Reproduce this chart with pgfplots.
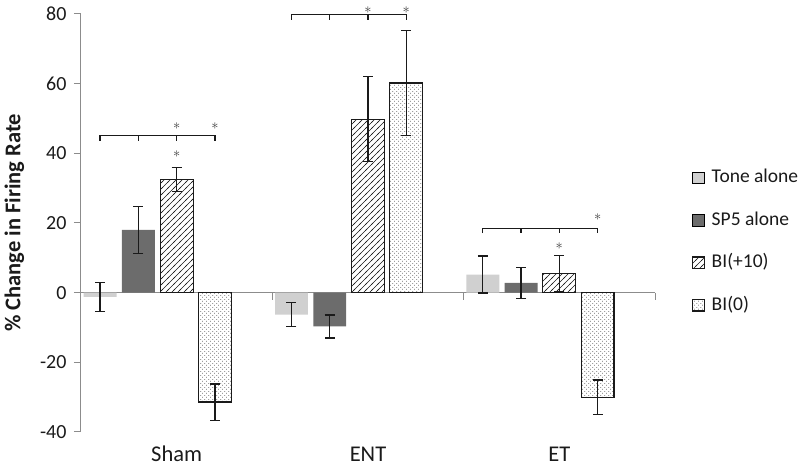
\documentclass[border=0pt]{standalone}
\usepackage{fontspec}
\setmainfont{Carlito}
\usepackage{pgfplots}
\usepackage{pgfplotstable}
\pgfplotsset{compat=1.18}
\usetikzlibrary{patterns}

\definecolor{tonegray}{RGB}{208,208,208}
\definecolor{spgray}{RGB}{108,108,108}
\definecolor{axisgray}{RGB}{140,140,140}
\definecolor{txt}{RGB}{26,26,26}
\definecolor{stargray}{RGB}{60,60,60}

% "/" hatch for BI(+10)
\pgfdeclarepatternformonly{hatchNE}{\pgfqpoint{-1pt}{-1pt}}{\pgfqpoint{7pt}{7pt}}{\pgfqpoint{6pt}{6pt}}{
  \pgfsetlinewidth{0.6pt}
  \pgfpathmoveto{\pgfqpoint{-1pt}{-1pt}}
  \pgfpathlineto{\pgfqpoint{7pt}{7pt}}
  \pgfusepath{stroke}}
% dotted "\" hatch for BI(0)
\pgfdeclarepatternformonly{dotNW}{\pgfqpoint{0pt}{0pt}}{\pgfqpoint{4pt}{4pt}}{\pgfqpoint{4pt}{4pt}}{
  \pgfpathrectangle{\pgfqpoint{0.6pt}{2.6pt}}{\pgfqpoint{0.8pt}{0.8pt}}
  \pgfpathrectangle{\pgfqpoint{2.6pt}{0.6pt}}{\pgfqpoint{0.8pt}{0.8pt}}
  \pgfusepath{fill}}

% columns: x = group (0 Sham, 1 ENT, 2 ET), y = mean, e = error
\pgfplotstableread{
x y e
0 -1.2 4.2
1 -6.3 3.5
2 5.2 5.3
}\tone
\pgfplotstableread{
x y e
0 18.0 6.7
1 -9.7 3.3
2 2.8 4.4
}\spfive
\pgfplotstableread{
x y e
0 32.5 3.5
1 49.8 12.2
2 5.5 5.2
}\biten
\pgfplotstableread{
x y e
0 -31.4 5.2
1 60.2 15.0
2 -30.0 4.9
}\bizero

\pgfplotsset{
  errb/.style={
    error bars/.cd, y dir=both, y explicit,
    error bar style={draw=txt, line width=1.3pt},
    error mark options={draw=txt, rotate=90, mark size=5pt, line width=1.3pt}},
}
\tikzset{
  bracket/.style={draw=txt, line width=1.3pt},
  star/.style={font=\fontsize{15}{15}\selectfont, text=stargray, inner sep=0pt},
  cat/.style={font=\fontsize{22.5}{22.5}\selectfont, text=txt, anchor=base},
}

\begin{document}
\begin{tikzpicture}
\useasboundingbox (0,0) rectangle (800pt,470pt);
\begin{axis}[
  at={(81pt,38pt)}, anchor=south west,
  scale only axis, width=574pt, height=418pt,
  xmin=-0.5, xmax=2.5, ymin=-40, ymax=80,
  axis y line*=left, axis x line=none,
  xtick=\empty,
  ytick={-40,-20,0,20,40,60,80},
  tick align=outside, major tick length=7pt,
  y axis line style={draw=axisgray, line width=1pt},
  ytick style={draw=axisgray, line width=1pt},
  yticklabel style={font=\fontsize{20}{20}\selectfont, text=txt, xshift=-4pt},
  /pgf/number format/assume math mode=true,
  clip=false,
  legend style={at={(axis description cs:1.0645,0.630)}, anchor=north west,
    draw=none, fill=none, inner sep=0pt, outer sep=0pt,
    font=\fontsize{19.5}{19.5}\selectfont, text=txt,
    nodes={inner sep=0pt, text height=14pt, text depth=4pt},
    row sep=24.5pt, column sep=7pt},
  legend cell align=left,
  legend image code/.code={\draw[#1] (0pt,-5.75pt) rectangle (11.5pt,5.75pt);},
]
% zero line and group ticks
\draw[axisgray, line width=1pt] (axis cs:-0.5,0) -- (axis cs:2.5,0);
\draw[axisgray, line width=1pt] (axis cs:0.5,0) -- ++(0pt,-7pt)
  (axis cs:1.5,0) -- ++(0pt,-7pt) (axis cs:2.5,0) -- ++(0pt,-7pt);

\addplot[ybar, bar width=0.172, bar shift=0, fill=tonegray, draw=none, errb]
  table[x expr=\thisrow{x}-0.4, y=y, y error=e] {\tone};
\addlegendentry{Tone alone}
\addplot[ybar, bar width=0.172, bar shift=0, fill=spgray, draw=none, errb]
  table[x expr=\thisrow{x}-0.2, y=y, y error=e] {\spfive};
\addlegendentry{SP5 alone}
\addplot[ybar, bar width=0.172, bar shift=0, draw=txt, line width=1.2pt,
  pattern=hatchNE, pattern color=txt, errb]
  table[x=x, y=y, y error=e] {\biten};
\addlegendentry{BI(+10)}
\addplot[ybar, bar width=0.172, bar shift=0, draw=txt, line width=1.2pt,
  pattern=dotNW, pattern color=txt, errb]
  table[x expr=\thisrow{x}+0.2, y=y, y error=e] {\bizero};
\addlegendentry{BI(0)}

% significance brackets
\draw[bracket] (axis cs:-0.4,45.1) ++(0pt,-5pt) -- ++(0pt,5pt) -| ([yshift=-5pt]axis cs:0.2,45.1);
\draw[bracket] (axis cs:-0.2,45.1) -- ++(0pt,-5pt) (axis cs:0,45.1) -- ++(0pt,-5pt);
\draw[bracket] (axis cs:0.6,79.8) ++(0pt,-5pt) -- ++(0pt,5pt) -| ([yshift=-5pt]axis cs:1.2,79.8);
\draw[bracket] (axis cs:0.8,79.8) -- ++(0pt,-5pt) (axis cs:1,79.8) -- ++(0pt,-5pt);
\draw[bracket] (axis cs:1.6,18.5) ++(0pt,-5pt) -- ++(0pt,5pt) -| ([yshift=-5pt]axis cs:2.2,18.5);
\draw[bracket] (axis cs:1.8,18.5) -- ++(0pt,-5pt) (axis cs:2,18.5) -- ++(0pt,-5pt);

\node[star] at (axis cs:0,47.9) {$\ast$};
\node[star] at (axis cs:0.2,47.9) {$\ast$};
\node[star] at (axis cs:0,39.7) {$\ast$};
\node[star] at (axis cs:1,81.0) {$\ast$};
\node[star] at (axis cs:1.2,81.0) {$\ast$};
\node[star] at (axis cs:2.2,21.6) {$\ast$};
\node[star] at (axis cs:2,13.3) {$\ast$};

% y label and category labels
\node[rotate=90, anchor=center, font=\bfseries\fontsize{22.5}{22.5}\selectfont, text=txt]
  at (axis description cs:-0.116,0.5) {\% Change in Firing Rate};
\node[cat] at ([yshift=-29.7pt]axis cs:0,-40) {Sham};
\node[cat] at ([yshift=-29.7pt]axis cs:1,-40) {ENT};
\node[cat] at ([yshift=-29.7pt]axis cs:2,-40) {ET};
\end{axis}
\end{tikzpicture}
\end{document}
